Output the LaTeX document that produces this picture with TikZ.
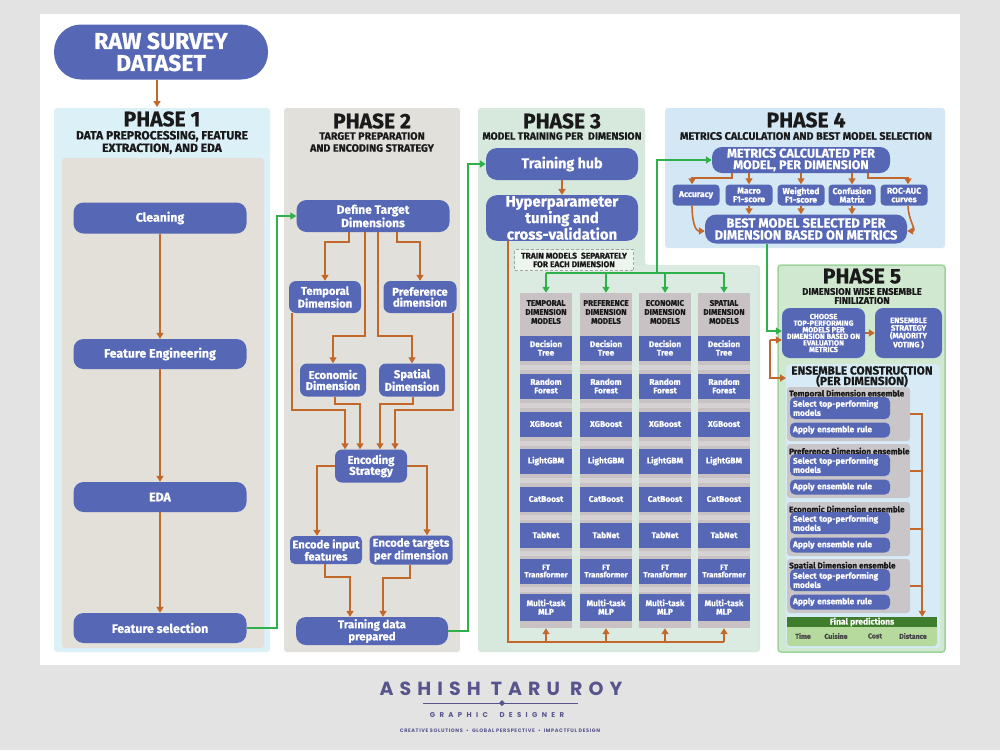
\documentclass[tikz,border=0pt]{standalone}
\usepackage{fontspec}
\setmainfont{Fira Sans}[BoldFeatures={FakeBold=0.6}]
\newfontfamily\popf{Poppins}
\usetikzlibrary{arrows.meta}
\definecolor{boxblue}{HTML}{5668B5}
\definecolor{arrorange}{HTML}{C2682B}
\definecolor{arrgreen}{HTML}{2FB04A}
\definecolor{pagegray}{HTML}{E3E3E3}
\definecolor{p1blue}{HTML}{DCF0F8}
\definecolor{p1gray}{HTML}{E2E0D9}
\definecolor{p2gray}{HTML}{E2E0DA}
\definecolor{p3green}{HTML}{D7E8DC}
\definecolor{p3inner}{HTML}{DCEBE2}
\definecolor{p4blue}{HTML}{D3E7F5}
\definecolor{p5green}{HTML}{D0E8D0}
\definecolor{p5border}{HTML}{9CD49C}
\definecolor{colgray}{HTML}{C8C2C4}
\definecolor{stripgray}{HTML}{D6D1D2}
\definecolor{ensblue}{HTML}{D6EBF5}
\definecolor{grpgray}{HTML}{C9C6CA}
\definecolor{dkgreen}{HTML}{3D7D2C}
\definecolor{ltgreen}{HTML}{B6DA9E}
\definecolor{footpurple}{HTML}{57558C}
\definecolor{titleblack}{HTML}{1A1A1A}
\newcommand\fsz[2]{\fontsize{#1}{#2}\selectfont}
\tikzset{
  bx/.style={fill=boxblue, text=white, font=\bfseries\fsz{11.3}{11}, align=center, inner sep=1pt, rounded corners=7pt},
  orr/.style={draw=arrorange, line width=1.9pt, -{Triangle[width=7pt,length=6pt]}},
  orl/.style={draw=arrorange, line width=1.9pt},
  grn/.style={draw=arrgreen, line width=1.6pt, -{Triangle[width=7pt,length=6pt]}},
  grl/.style={draw=arrgreen, line width=1.6pt},
  phead/.style={font=\bfseries\fsz{21}{22}, text=titleblack, inner sep=0pt},
  psub/.style={font=\bfseries\fsz{12}{12.5}, text=titleblack, align=center, inner sep=0pt},
  mdl/.style={fill=boxblue, text=white, font=\bfseries\fsz{8.3}{8.5}, align=center, minimum width=52pt, minimum height=25pt, inner sep=0pt},
  colbg/.style={fill=colgray, minimum width=52pt, minimum height=335pt, inner sep=0pt},
  strip/.style={fill=stripgray, minimum width=52pt, minimum height=5pt, inner sep=0pt},
  colhd/.style={font=\bfseries\fsz{8}{9}, text=titleblack, align=center, inner sep=0pt},
  mbox/.style={bx, font=\bfseries\fsz{8.5}{8.5}, minimum width=47pt, minimum height=21pt, rounded corners=4pt, inner sep=0pt},
  grp/.style={fill=grpgray, minimum width=123pt, minimum height=54pt, inner sep=0pt, rounded corners=3pt},
  glbl/.style={font=\bfseries\fsz{8.2}{8.5}, text=titleblack, anchor=west, inner sep=0pt},
  gsel/.style={fill=boxblue, text=white, font=\bfseries\fsz{8.3}{7.5}, text width=94pt, align=left, inner sep=3pt, minimum height=18pt, rounded corners=5pt},
  gapp/.style={gsel, minimum height=15pt},
  fplbl/.style={font=\bfseries\fsz{7}{8}, text=titleblack!80, inner sep=0pt},
}
\begin{document}
\begin{tikzpicture}[x=1pt,y=-1pt]
\useasboundingbox (0,0) rectangle (1000,750);
\fill[pagegray] (0,0) rectangle (1000,750);
\fill[white] (40,14) rectangle (960,665);

% panels
\fill[p1blue, rounded corners=3pt] (54,108) rectangle (270,652);
\fill[p1gray, rounded corners=3pt] (62,158) rectangle (264,648);
\fill[p2gray, rounded corners=3pt] (284,108) rectangle (460,652);
\fill[p3green, rounded corners=3pt] (478,108) -- (645,108) -- (645,265) -- (760,265) -- (760,652) -- (478,652) -- cycle;
\fill[p3inner, rounded corners=3pt] (508,266) rectangle (758,650);
\fill[p4blue, rounded corners=3pt] (665,108) rectangle (945,248);
\filldraw[fill=p5green, draw=p5border, line width=1.5pt, rounded corners=3pt] (778,265) rectangle (945,652);

% headers
\node[phead] (h1) at (162,119) {PHASE 1};
\node[psub] (s1) at (162,142.5) {DATA PREPROCESSING, FEATURE\\EXTRACTION, AND EDA};
\node[phead] (h2) at (372,121) {PHASE 2};
\node[psub, font=\bfseries\fsz{10.7}{12}] (s2) at (372,142) {TARGET PREPARATION\\AND ENCODING STRATEGY};
\node[phead] (h3) at (562,121) {PHASE 3};
\node[psub, font=\bfseries\fsz{10.4}{12}] (s3) at (562,136) {MODEL TRAINING PER\ \ DIMENSION};
\node[phead] (h4) at (806,120) {PHASE 4};
\node[psub, font=\bfseries\fsz{10.8}{12}] (s4) at (806,136) {METRICS CALCULATION AND BEST MODEL SELECTION};
\node[phead] (h5) at (862,276) {PHASE 5};
\node[psub, font=\bfseries\fsz{9.5}{9}] (s5) at (862,296) {DIMENSION WISE ENSEMBLE\\FINILIZATION};

% raw dataset
\node[bx, minimum width=214pt, minimum height=55pt, rounded corners=27pt, font=\bfseries\fsz{23}{22}] (raw) at (161,52) {RAW SURVEY\\DATASET};
\coordinate (p1top) at (157,107);
\draw[orr] (raw.south -| p1top) -- (p1top);

% phase 1
\node[bx, minimum width=173pt, minimum height=31pt, rounded corners=10pt, font=\bfseries\fsz{12.3}{12}] (clean) at (160,218) {Cleaning};
\node[bx, minimum width=173pt, minimum height=30pt, rounded corners=10pt, font=\bfseries\fsz{12.3}{12}] (fe) at (160,354) {Feature Engineering};
\node[bx, minimum width=173pt, minimum height=30pt, rounded corners=10pt, font=\bfseries\fsz{12.3}{12}] (eda) at (160,497) {EDA};
\node[bx, minimum width=173pt, minimum height=30pt, rounded corners=10pt, font=\bfseries\fsz{12.3}{12}] (fs) at (160,628) {Feature selection};
\draw[orr] (clean) -- (fe);
\draw[orr] (fe) -- (eda);
\draw[orr] (eda) -- (fs);

% phase 2
\node[bx, minimum width=153pt, minimum height=32pt, rounded corners=10pt, font=\bfseries\fsz{12}{11.5}] (def) at (373,216) {Define Target\\Dimensions};
\node[bx, minimum width=72pt, minimum height=32pt] (temp) at (325,297) {Temporal\\Dimension};
\node[bx, minimum width=73pt, minimum height=32pt] (pref) at (420,297) {Preference\\dimension};
\node[bx, minimum width=66pt, minimum height=33pt] (econ) at (333,380) {Economic\\Dimension};
\node[bx, minimum width=66pt, minimum height=33pt] (spat) at (412,380) {Spatial\\Dimension};
\node[bx, minimum width=72pt, minimum height=33pt] (enc) at (371,466) {Encoding\\Strategy};
\node[bx, minimum width=72pt, minimum height=28pt, rounded corners=5pt] (encin) at (326,550) {Encode input\\features};
\node[bx, minimum width=83pt, minimum height=29pt, rounded corners=5pt] (enctg) at (411,550) {Encode targets\\per dimension};
\node[bx, minimum width=152pt, minimum height=28pt, rounded corners=10pt] (tdp) at (372,631) {Training data\\prepared};

\draw[grn] (fs.east) -- ++(30,0) |- (def.west);
\draw[orr] ([xshift=-24pt]def.south) -- ++(0,10) -| (temp.north);
\draw[orr] ([xshift=24pt]def.south) -- ++(0,10) -| (pref.north);
\draw[orr] ([xshift=-8pt]def.south) -- ++(0,104) -| (econ.north);
\draw[orr] ([xshift=5pt]def.south) -- ++(0,104) -| (spat.north);
\draw[orr] ([xshift=-33pt]temp.south) -- ++(0,97) -| ([xshift=-26pt]enc.north);
\draw[orr] ([xshift=2pt]econ.south) -- ++(0,7) -| ([xshift=-11pt]enc.north);
\draw[orr] ([xshift=1pt]spat.south) -- ++(0,7) -| ([xshift=9pt]enc.north);
\draw[orr] ([xshift=33pt]pref.south) -- ++(0,97) -| ([xshift=24pt]enc.north);
\draw[orr] (enc.west) -| ([xshift=-9pt]encin.north);
\draw[orr] (enc.east) -| ([xshift=16pt]enctg.north);
\draw[orr] ([xshift=-1pt]encin.south) -- ++(0,13) -| ([xshift=-22pt]tdp.north);
\draw[orr] ([xshift=-1pt]enctg.south) -- ++(0,13) -| ([xshift=11pt]tdp.north);

% phase 3
\node[bx, minimum width=152pt, minimum height=32pt, rounded corners=11pt, font=\bfseries\fsz{14.3}{14}] (hub) at (562,164) {Training hub};
\node[bx, minimum width=152pt, minimum height=45pt, rounded corners=11pt, font=\bfseries\fsz{15}{13}] (hyp) at (562,218) {Hyperparameter\\tuning and\\cross-validation};
\draw[grn] (tdp.east) -- ++(20,0) |- (hub.west);
\draw[orr] (hub) -- (hyp);
\node[draw=gray!70, densely dashed, fill=white!55!p3green, minimum width=119pt, minimum height=21pt, font=\bfseries\fsz{8.4}{8.5}, text=titleblack, align=center, inner sep=0pt] (tms) at (574,260) {TRAIN MODELS\ \ SEPARATELY\\FOR EACH DIMENSION};

\foreach \i/\x/\ttl in {1/546/TEMPORAL, 2/606/PREFERENCE, 3/665/ECONOMIC, 4/724/SPATIAL}{
  \node[colbg] (col\i) at (\x,460.5) {};
  \foreach \sy in {367.5,405.5,443,480.5,517.5,553.5,589.5}{ \node[strip] at (\x,\sy) {}; }
  \node[colhd] (colh\i) at (\x,312) {\ttl\\DIMENSION\\MODELS};
  \node[mdl] (m\i a) at (\x,348) {Decision\\Tree};
  \node[mdl] (m\i b) at (\x,386) {Random\\Forest};
  \node[mdl] (m\i c) at (\x,424) {XGBoost};
  \node[mdl] (m\i d) at (\x,461) {LightGBM};
  \node[mdl] (m\i e) at (\x,499) {CatBoost};
  \node[mdl] (m\i f) at (\x,535) {TabNet};
  \node[mdl, font=\bfseries\fsz{7.7}{7.5}] (m\i g) at (\x,571) {FT\\Transformer};
  \node[mdl, minimum height=27pt] (m\i h) at (\x,607) {Multi-task\\MLP};
}
\coordinate (hl) at ([xshift=-54pt]hyp.south);
\coordinate (obot) at (508,642);
\draw[orl] (hl) -- (obot) -- (col4.south |- obot);
\foreach \i in {1,...,4}{ \draw[orr] (col\i.south |- obot) -- (col\i.south); }

% phase 4
\node[bx, minimum width=178pt, minimum height=26pt, rounded corners=10pt, font=\bfseries\fsz{12.6}{11.5}] (met) at (801,160) {METRICS CALCULATED PER\\MODEL, PER DIMENSION};
\node[mbox] (acc) at (696,195) {Accuracy};
\node[mbox] (mac) at (749,195) {Macro\\F1-score};
\node[mbox] (wf1) at (801,195) {Weighted\\F1-score};
\node[mbox] (cm) at (852,195) {Confusion\\Matrix};
\node[mbox] (roc) at (904,195) {ROC-AUC\\curves};
\node[bx, minimum width=202pt, minimum height=29pt, rounded corners=11pt, font=\bfseries\fsz{13}{12}] (best) at (806,229) {BEST MODEL SELECTED PER\\DIMENSION BASED ON METRICS};

\coordinate (gh) at (657,273);
\draw[grn] (gh) |- (met.west);
\draw[grl] (col1.north |- gh) -- (col4.north |- gh);
\foreach \i in {1,...,4}{ \draw[grn] (col\i.north |- gh) -- (col\i.north); }

\tikzset{orr4/.style={orr, line width=1.6pt}}
\draw[orr4] ([xshift=-69pt]met.south) -- ++(0,5) -| ([xshift=-4pt]acc.north);
\draw[orr4] ([xshift=67pt]met.south) -- ++(0,5) -| ([xshift=4pt]roc.north);
\draw[orr4] (mac.north |- met.south) -- (mac.north);
\draw[orr4] (wf1.north |- met.south) -- (wf1.north);
\draw[orr4] (cm.north |- met.south) -- (cm.north);
\draw[orr4] ([xshift=-4pt]acc.south) .. controls +(0,14) and +(-10,0) .. ([yshift=-2pt]best.west);
\draw[orr4] ([xshift=4pt]roc.south) .. controls +(0,14) and +(10,0) .. ([yshift=-2pt]best.east);
\draw[orr4] (mac.south) -- (mac.south |- best.north);
\draw[orr4] (wf1.south) -- (wf1.south |- best.north);
\draw[orr4] (cm.south) -- (cm.south |- best.north);

% phase 5
\node[bx, minimum width=83pt, minimum height=50pt, rounded corners=8pt, font=\bfseries\fsz{7.4}{6.6}] (choose) at (823.5,333) {CHOOSE\\TOP-PERFORMING\\MODELS PER\\DIMENSION BASED ON\\EVALUATION\\METRICS};
\node[bx, minimum width=67pt, minimum height=50pt, rounded corners=8pt, font=\bfseries\fsz{7.8}{7.6}] (strat) at (908.5,333) {ENSEMBLE\\STRATEGY\\(MAJORITY\\VOTING )};
\draw[orr] (choose) -- (strat);
\draw[grn] ([xshift=-39pt]best.south) |- ([yshift=2pt]choose.west);

\node[fill=ensblue, minimum width=154pt, minimum height=284pt, inner sep=0pt, rounded corners=4pt, anchor=north west] (ens) at (786,364) {};
\node[font=\bfseries\fsz{11.8}{10.5}, text=titleblack, align=center, inner sep=0pt] (enst) at (862,376.5) {ENSEMBLE CONSTRUCTION\\(PER DIMENSION)};
\coordinate (ob5) at (770,340);
\coordinate (ensin) at (786,378);
\draw[orr] (ob5) -- (choose.west |- ob5);
\draw[orr] (ob5) |- (ensin);

\foreach \i/\t/\nm in {1/387/Temporal, 2/444/Preference, 3/502/Economic, 4/559/Spatial}{
  \node[grp] (g\i) at (848.5,{\t+27}) {};
  \node[glbl] (gl\i) at (789,{\t+7}) {\nm\ Dimension ensemble};
  \node[gsel] (gs\i) at (840,{\t+21}) {Select top-performing\\models};
  \node[gapp] (ga\i) at (840,{\t+43}) {Apply ensemble rule};
}
\fill[ltgreen, rounded corners=3pt] (787,624) rectangle (937,646);
\node[fill=dkgreen, text=white, font=\bfseries\fsz{8.5}{8}, minimum width=150pt, minimum height=10pt, inner sep=0pt] (fp) at (862,622) {Final predictions};
\node[fplbl] (ft) at (803,636) {Time};
\node[fplbl] (fc) at (836,636) {Cuisine};
\node[fplbl] (fo) at (875,636) {Cost};
\node[fplbl] (fd) at (913,636) {Distance};

\coordinate (bt) at ([xshift=12pt]g1.east);
\foreach \i in {1,...,4}{ \draw[orl, line width=1.5pt] (g\i.east) -- ++(12,0); }
\draw[orr, line width=1.5pt] ([yshift=0.75pt]bt) -- (bt |- fp.north);

% footer
\node[font=\popf\bfseries\fsz{19}{20}\addfontfeatures{LetterSpace=32}, text=footpurple, inner sep=0pt] (nm) at (501,689) {ASHISH TARU ROY};
\draw[footpurple, line width=0.8pt] (423,703) -- (578,703);
\fill[footpurple] (502,700) -- (505,703) -- (502,706) -- (499,703) -- cycle;
\node[font=\popf\bfseries\fsz{7}{8}\addfontfeatures{LetterSpace=62}, text=footpurple, inner sep=0pt] (gd) at (497,715) {GRAPHIC\ \ DESIGNER};
\node[font=\popf\bfseries\fsz{5}{5}\addfontfeatures{LetterSpace=12}, text=footpurple, inner sep=0pt] (tag) at (500,731) {CREATIVE SOLUTIONS\ \ •\ \ GLOBAL PERSPECTIVE\ \ •\ \ IMPACTFUL DESIGN};
\end{tikzpicture}
\end{document}
